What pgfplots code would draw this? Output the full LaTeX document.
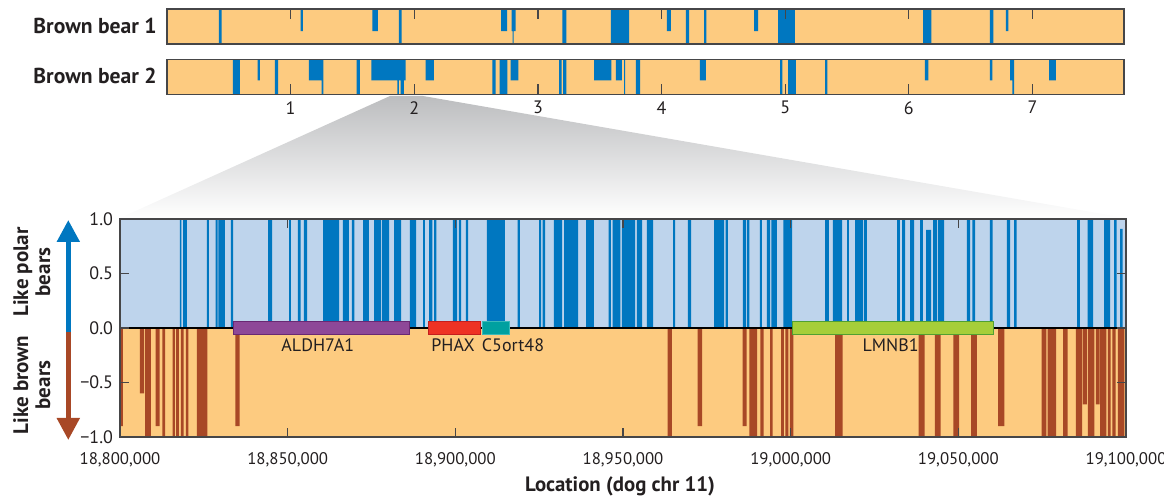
\documentclass[border=0pt]{standalone}
\usepackage{pgfplots}
\pgfplotsset{compat=1.18}
\usepackage{pgfplotstable}
\usepackage{fontspec}
\setmainfont{PT Sans}
\usetikzlibrary{arrows.meta}

\definecolor{barblue}{RGB}{0,119,192}
\definecolor{barbrown}{RGB}{168,72,38}
\definecolor{bgblue}{RGB}{190,212,236}
\definecolor{bgorange}{RGB}{253,203,128}
\definecolor{framegray}{RGB}{70,70,72}
\definecolor{textgray}{RGB}{35,31,32}
\definecolor{aldh}{RGB}{142,72,152}
\definecolor{aldhd}{RGB}{105,40,115}
\definecolor{phax}{RGB}{238,50,36}
\definecolor{phaxd}{RGB}{195,30,30}
\definecolor{cfive}{RGB}{0,160,160}
\definecolor{cfived}{RGB}{60,185,185}
\definecolor{lmnb}{RGB}{166,206,57}
\definecolor{lmnbd}{RGB}{80,160,50}
\definecolor{trapgray}{RGB}{188,189,191}

\newcommand\ticksize{\fontsize{8.4}{10}\selectfont}
\newcommand\genesize{\fontsize{9}{10}\selectfont}
\newcommand\boldsize{\fontsize{10.8}{11}\selectfont\bfseries}

% strip 1: x in chromosome units, y = bar length from the top (1 = full)
\pgfplotstableread{
x y
0.4199 1
0.4417 0
1.0809 0.63
1.0995 0
1.6602 0.63
1.7063 0
1.8762 1
1.8981 0
2.7015 0.63
2.7500 0
2.7880 0.63
2.7945 1
2.8026 0.63
2.8204 0
3.1974 1
3.2298 0
3.5890 1
3.7371 0
4.0421 0.63
4.0744 0
4.1958 1
4.2225 0
4.3439 1
4.3625 0
4.7484 0.63
4.7808 0
4.9426 1
5.0777 0
6.1157 1
6.1828 0
6.6553 1
6.6845 0
6.7848 0.63
6.8058 0
}\stripone

\pgfplotstableread{
x y
0.5332 1
0.5898 0
0.7330 0.6
0.7516 0
0.8730 1
0.8997 0
1.1481 0.6
1.2508 1
1.2638 0
1.5340 1
1.5607 0
1.6521 0.6
1.8625 1
1.8762 0.6
1.8900 1
1.9167 0.6
1.9304 0
2.0922 0.6
2.1594 0
2.6311 1
2.6586 0
2.6909 1
2.7524 0
2.7799 0.6
2.8414 0
3.1707 1
3.1926 0
3.2031 1
3.2298 0
3.4539 0.6
3.5939 0
3.6294 0.6
3.6780 0
3.6966 1
3.7047 0
3.7913 1
3.8260 0
4.3091 0.6
4.3576 0
4.9587 1
4.9773 0
5.0235 1
5.0858 0
5.3228 1
5.3414 0
6.1294 0.6
6.1586 0
6.6553 0.6
6.6764 0
6.8196 0.6
6.8382 1
6.8519 0
7.1351 0.6
7.1893 0
}\striptwo

% main panel, x in kb on dog chr 11
\pgfplotstableread{
x y
18817.89 1
18818.34 0
18818.79 1
18819.98 0
18825.94 1
18826.54 0
18828.48 1
18829.08 0
18829.37 1
18831.31 0
18833.10 1
18833.70 0
18844.14 1
18845.33 0
18850.40 1
18850.99 0
18853.08 1
18853.83 0
18854.87 1
18855.77 0
18860.54 1
18865.31 0
18866.50 1
18868.29 0
18869.18 1
18869.93 0
18872.47 1
18874.25 0
18875.75 1
18877.83 0
18878.13 1
18880.22 0
18881.71 1
18883.80 0
18886.48 1
18888.27 0
18890.36 1
18890.95 0
18892.15 1
18893.19 0
18893.64 1
18894.38 0
18899.30 1
18900.50 0
18901.09 1
18901.69 0
18903.18 1
18903.78 0
18909.44 1
18914.81 0
18918.54 1
18919.28 0
18924.95 1
18925.55 0
18926.00 1
18926.74 0
18929.42 1
18931.81 0
18932.41 1
18936.58 0
18938.97 1
18941.35 0
18945.68 1
18946.42 0
18946.87 1
18949.25 0
18949.70 1
18953.58 0
18954.17 1
18955.67 0
18957.15 1
18958.95 0
18964.91 1
18965.51 0
18969.38 1
18970.28 0
18977.14 1
18980.12 0
18980.57 1
18981.31 0
18985.78 1
18986.68 0
18986.98 1
18987.72 0
18990.85 1
18991.45 0
18992.94 1
18993.84 0
18994.28 1
18995.92 0
18997.86 1
19000.40 0
19010.24 1
19011.43 0
19012.62 1
19015.31 0
19016.80 1
19017.39 0
19019.19 1
19021.57 0
19021.87 1
19022.76 0
19031.71 1
19032.60 0
19033.20 1
19034.10 0
19035.59 1
19036.78 0
19038.57 1
19039.46 0
19040.36 0.9
19041.85 0
19042.45 1
19043.64 0
19043.94 1
19045.73 0
19052.58 1
19053.48 0
19054.22 1
19054.97 0
19059.44 1
19060.19 0
19064.51 1
19065.41 0
19066.60 1
19067.35 0
19085.39 1
19086.28 0
19088.52 1
19090.16 0
19093.44 1
19095.23 0
19096.42 1
19097.17 0
19098.21 0.91
19098.96 0
}\bluetab

\pgfplotstableread{
x y
18800.00 -0.9
18800.89 0
18805.96 -0.6
18807.16 0
18807.46 -1
18809.24 0
18810.59 -0.9
18811.78 0
18812.61 -1
18813.42 0
18815.66 -1
18816.40 0
18816.70 -1
18817.59 0
18818.19 -1
18818.94 0
18819.68 -1
18820.37 0
18822.96 -1
18826.09 0
18834.44 -0.9
18835.64 0
18963.27 -1
18964.61 0
18972.22 -0.9
18973.56 0
18985.64 -0.9
18986.83 0
18987.72 -1
18989.96 0
18991.00 -1
18991.90 0
18993.84 -1
18994.64 0
18997.12 -1
18998.01 0
18998.40 -1
18999.35 0
18999.80 -1
19000.84 0
19013.22 -1
19015.52 0
19038.18 -1
19039.97 0
19043.04 -1
19044.74 0
19048.50 -1
19050.26 0
19053.78 -1
19055.51 0
19061.89 -0.9
19063.71 0
19074.80 -1
19076.29 0
19076.59 -1
19079.13 0
19081.27 -1
19082.59 0
19085.03 -1
19086.94 0
19087.12 -0.7
19088.31 0
19088.61 -1
19090.58 0
19090.99 -0.7
19092.13 0
19092.25 -1
19094.18 0
19094.57 -1
19095.44 0
19095.97 -1
19096.90 0
19097.56 -1
19099.55 0
}\browntab

\pgfplotsset{
  stripstyle/.style={
    anchor=south west, scale only axis, width=478.5pt, height=17.5pt,
    xmin=0, xmax=7.74, ymin=0, ymax=1, y dir=reverse,
    ytick=\empty, xtick={1,2,3,4,5,6,7},
    tick align=inside, major tick length=5pt,
    axis line style={draw=framegray, line width=0.75pt},
    tick style={draw=framegray, line width=0.6pt},
    axis background/.style={fill=bgorange},
    axis on top,
    ticklabel style={font=\genesize, text=textgray},
  }
}

\begin{document}
\begin{tikzpicture}
\useasboundingbox (0,0) rectangle (582pt,248.5pt);

% zoom trapezoid
\shade[top color=trapgray, bottom color=white] (195pt,200.5pt) -- (211.5pt,200.5pt) -- (563pt,139.5pt) -- (60pt,139.5pt) -- cycle;

% strip 1
\begin{axis}[stripstyle, at={(83.5pt,226.5pt)}, xtick pos=right, xticklabels={}]
\addplot[const plot, fill=barblue, draw=none] table {\stripone} \closedcycle;
\end{axis}
% strip 2
\begin{axis}[stripstyle, at={(83.5pt,201.35pt)}, xtick pos=left, xticklabels={1,2,3,4,5,6,7}]
\addplot[const plot, fill=barblue, draw=none] table {\striptwo} \closedcycle;
\end{axis}

\node[anchor=east, inner sep=0pt, font=\boldsize, text=textgray] at (78.5pt,235.3pt) {Brown bear 1};
\node[anchor=east, inner sep=0pt, font=\boldsize, text=textgray] at (78.5pt,210.5pt) {Brown bear 2};

% main panel
\begin{axis}[
  at={(60pt,30pt)}, anchor=south west, scale only axis,
  width=503pt, height=109pt,
  xmin=18800, xmax=19100, ymin=-1, ymax=1,
  scaled x ticks=false, scaled y ticks=false,
  axis line style={draw=framegray, line width=0.75pt},
  xtick={18800,18850,18900,18950,19000,19050,19100},
  xticklabels={{18,800,000},{18,850,000},{18,900,000},{18,950,000},{19,000,000},{19,050,000},{19,100,000}},
  ytick={-1,-0.5,0,0.5,1},
  yticklabels={−1.0,−0.5,0.0,0.5,1.0},
  tick align=inside, tick pos=both, major tick length=4.5pt,
  tick style={draw=framegray, line width=0.6pt},
  ticklabel style={font=\ticksize, text=textgray},
  yticklabel style={font=\genesize},
  xticklabel style={yshift=-4pt},
  axis on top,
]
\addplot[fill=bgblue, draw=none] coordinates {(18800,1) (19100,1)} \closedcycle;
\addplot[fill=bgorange, draw=none] coordinates {(18800,-1) (19100,-1)} \closedcycle;
\addplot[const plot, fill=barblue, draw=none] table {\bluetab} \closedcycle;
\addplot[const plot, fill=barbrown, draw=none] table {\browntab} \closedcycle;
\addplot[black, line width=0.6pt] coordinates {(18800,0) (19100,0)};
\addplot[fill=aldh, draw=aldhd, line width=0.5pt] coordinates {(18833.8,-0.06) (18833.8,0.055) (18886.3,0.055) (18886.3,-0.06)} -- cycle;
\addplot[fill=phax, draw=phaxd, line width=0.5pt] coordinates {(18891.9,-0.06) (18891.9,0.055) (18907.5,0.055) (18907.5,-0.06)} -- cycle;
\addplot[fill=cfive, draw=cfived, line width=0.5pt] coordinates {(18908.1,-0.06) (18908.1,0.055) (18916.1,0.055) (18916.1,-0.06)} -- cycle;
\addplot[fill=lmnb, draw=lmnbd, line width=0.5pt] coordinates {(19000.6,-0.06) (19000.6,0.055) (19060.4,0.055) (19060.4,-0.06)} -- cycle;
\node[font=\genesize, text=textgray] at (axis cs:18859.0,-0.16) {ALDH7A1};
\node[font=\genesize, text=textgray] at (axis cs:18899.3,-0.16) {PHAX};
\node[font=\genesize, text=textgray] at (axis cs:18917.2,-0.16) {C5ort48};
\node[font=\genesize, text=textgray] at (axis cs:19029.8,-0.16) {LMNB1};
\end{axis}

% side arrow and labels
\draw[barblue, line width=2.5pt, -{Triangle[width=11pt,length=11pt]}] (34.15pt,82pt) -- (34.15pt,138.5pt);
\draw[barbrown, line width=2.5pt, -{Triangle[width=11pt,length=11pt]}] (34.15pt,82.5pt) -- (34.15pt,28.5pt);
\node[rotate=90, align=center, font=\fontsize{10.5}{11}\selectfont\bfseries, text=textgray] at (15.85pt,112.5pt) {Like polar\\bears};
\node[rotate=90, align=center, font=\fontsize{10.5}{11}\selectfont\bfseries, text=textgray] at (15.85pt,56pt) {Like brown\\bears};

\node[font=\fontsize{10.4}{11}\selectfont\bfseries, text=textgray] at (310pt,5.5pt) {Location (dog chr 11)};
\end{tikzpicture}
\end{document}
